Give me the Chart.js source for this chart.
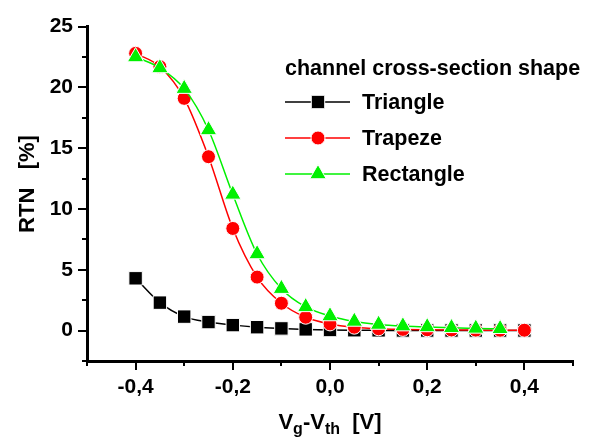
<!DOCTYPE html>
<html>
<head>
<meta charset="utf-8">
<script src="https://cdn.jsdelivr.net/npm/chart.js@4/dist/chart.umd.min.js"></script>
<style>
  html, body { margin: 0; padding: 0; background: #fff; }
  #wrap { width: 597px; height: 438px; }
</style>
</head>
<body>
<div id="wrap"><canvas id="chart" width="597" height="438"></canvas></div>
<script>
// gate voltage offsets (V)
const vgVth = [-0.4, -0.35, -0.3, -0.25, -0.2, -0.15, -0.1, -0.05, 0, 0.05, 0.1, 0.15, 0.2, 0.25, 0.3, 0.35, 0.4];
// RTN amplitude in %
const triangleRTN = [4.3, 2.3, 1.15, 0.7, 0.45, 0.28, 0.18, 0.1, 0.05, 0.03, 0.02, 0.01, 0.01, 0.01, 0.01, 0.01, 0.01];
const trapezeRTN = [22.8, 21.7, 19.1, 14.3, 8.4, 4.4, 2.25, 1.1, 0.55, 0.28, 0.15, 0.1, 0.07, 0.05, 0.04, 0.03, 0.03];
const rectangleRTN = [22.5, 21.6, 19.9, 16.5, 11.2, 6.3, 3.45, 1.95, 1.2, 0.75, 0.5, 0.37, 0.3, 0.23, 0.18, 0.15];

const legendTitle = 'channel cross-section shape';
const seriesNames = ['Triangle', 'Trapeze', 'Rectangle'];

const FONT = "'Liberation Sans', Arial, sans-serif";

function toPoints(ys) {
    return ys.map((y, i) => ({ x: vgVth[i], y: y }));
}

function drawMarker(ctx, style, x, y, r, fill) {
    ctx.save();
    ctx.fillStyle = fill;
    ctx.strokeStyle = '#fff';
    ctx.lineWidth = 1;
    ctx.beginPath();
    if (style === 'rect') {
        const s = r * Math.SQRT1_2;
        ctx.rect(x - s, y - s, 2 * s, 2 * s);
    } else if (style === 'circle') {
        ctx.arc(x, y, r, 0, Math.PI * 2);
    } else {
        ctx.moveTo(x, y - r);
        ctx.lineTo(x + Math.sin(2 * Math.PI / 3) * r, y + r / 2);
        ctx.lineTo(x - Math.sin(2 * Math.PI / 3) * r, y + r / 2);
        ctx.closePath();
    }
    ctx.fill();
    ctx.stroke();
    ctx.restore();
}

// tick marks, axis titles and the legend box
const decorations = {
    id: 'decorations',
    afterDraw(chart) {
        const ctx = chart.ctx;
        const xs = chart.scales.x, ys = chart.scales.y;
        const area = chart.chartArea;
        ctx.save();
        ctx.strokeStyle = '#000';
        ctx.lineWidth = 2;
        xs.ticks.forEach(t => {
            const major = Math.round(t.value * 10) % 2 === 0;
            const px = Math.round(xs.getPixelForValue(t.value));
            ctx.beginPath();
            ctx.moveTo(px, area.bottom);
            ctx.lineTo(px, area.bottom + (major ? 9 : 5));
            ctx.stroke();
        });
        ys.ticks.forEach(t => {
            const major = Math.round(t.value / 2.5) % 2 === 0;
            const py = Math.round(ys.getPixelForValue(t.value));
            ctx.beginPath();
            ctx.moveTo(area.left, py);
            ctx.lineTo(area.left - (major ? 9 : 5), py);
            ctx.stroke();
        });

        // y title
        ctx.fillStyle = '#000';
        ctx.font = 'bold 22px ' + FONT;
        ctx.textAlign = 'center';
        ctx.textBaseline = 'middle';
        ctx.save();
        ctx.translate(28, 184);
        ctx.rotate(-Math.PI / 2);
        ctx.fillText('RTN   [%]', 0, 0);
        ctx.restore();

        // x title with subscripts
        const parts = [['V', 0], ['g', 1], ['-V', 0], ['th', 1], ['  [V]', 0]];
        const big = 'bold 22px ' + FONT, small = 'bold 16px ' + FONT;
        let total = 0;
        parts.forEach(p => { ctx.font = p[1] ? small : big; total += ctx.measureText(p[0]).width; });
        let cx = (area.left + area.right) / 2 - total / 2;
        const base = 429;
        ctx.textAlign = 'left';
        ctx.textBaseline = 'alphabetic';
        parts.forEach(p => {
            ctx.font = p[1] ? small : big;
            ctx.fillText(p[0], cx, p[1] ? base + 5 : base);
            cx += ctx.measureText(p[0]).width;
        });

        // legend
        ctx.font = 'bold 21.5px ' + FONT;
        ctx.textBaseline = 'middle';
        ctx.fillText(legendTitle, 285, 69);
        const rows = [102, 138, 174];
        chart.data.datasets.forEach((ds, i) => {
            const y = rows[i];
            ctx.strokeStyle = ds.borderColor;
            ctx.lineWidth = ds.borderWidth;
            ctx.beginPath();
            ctx.moveTo(285, y);
            ctx.lineTo(350, y);
            ctx.stroke();
            drawMarker(ctx, ds.pointStyle, 318, y, ds.pointRadius, ds.pointBackgroundColor);
            ctx.fillStyle = '#000';
            ctx.fillText(ds.label, 362, y + 1);
        });
        ctx.restore();
    }
};

const ctx = document.getElementById('chart').getContext('2d');
new Chart(ctx, {
    type: 'line',
    data: {
        datasets: [
            {
                label: seriesNames[0],
                data: toPoints(triangleRTN),
                borderColor: '#000',
                pointBackgroundColor: '#000',
                pointStyle: 'rect',
                pointRadius: 9.5,
                order: 3
            },
            {
                label: seriesNames[1],
                data: toPoints(trapezeRTN),
                borderColor: '#ff0000',
                pointBackgroundColor: '#ff0000',
                pointStyle: 'circle',
                pointRadius: 7,
                order: 2
            },
            {
                label: seriesNames[2],
                data: toPoints(rectangleRTN),
                borderColor: '#00f000',
                pointBackgroundColor: '#00f000',
                pointStyle: 'triangle',
                pointRadius: 9.5,
                order: 1
            }
        ].map(ds => Object.assign(ds, {
            borderWidth: 1.5,
            pointBorderColor: '#fff',
            pointBorderWidth: 1,
            pointHoverRadius: ds.pointRadius,
            cubicInterpolationMode: 'monotone',
            fill: false
        }))
    },
    options: {
        responsive: false,
        animation: false,
        layout: { padding: { top: 26, right: 24, left: 0, bottom: 0 } },
        plugins: {
            legend: { display: false },
            tooltip: { enabled: false }
        },
        scales: {
            x: {
                type: 'linear',
                min: -0.5,
                max: 0.5,
                grid: { display: false, drawTicks: false },
                border: { display: true, color: '#000', width: 3 },
                afterFit: s => { s.height = 77; },
                ticks: {
                    stepSize: 0.1,
                    autoSkip: false,
                    maxRotation: 0,
                    padding: 14,
                    color: '#000',
                    font: { family: FONT, size: 21, weight: 'bold' },
                    callback: v => {
                        const r = Math.round(v * 10);
                        if (r % 2 !== 0) return '';
                        return (r / 10).toFixed(1).replace('.', ',').replace('-0,0', '0,0');
                    }
                }
            },
            y: {
                min: -2.5,
                max: 25,
                grid: { display: false, drawTicks: false },
                border: { display: true, color: '#000', width: 3 },
                afterFit: s => { s.width = 87; },
                ticks: {
                    stepSize: 2.5,
                    autoSkip: false,
                    padding: 14,
                    color: '#000',
                    font: { family: FONT, size: 21, weight: 'bold' },
                    callback: v => {
                        const r = Math.round(v / 2.5);
                        if (r % 2 !== 0 || v < 0) return '';
                        return String(Math.round(v));
                    }
                }
            }
        }
    },
    plugins: [decorations]
});
</script>
</body>
</html>
